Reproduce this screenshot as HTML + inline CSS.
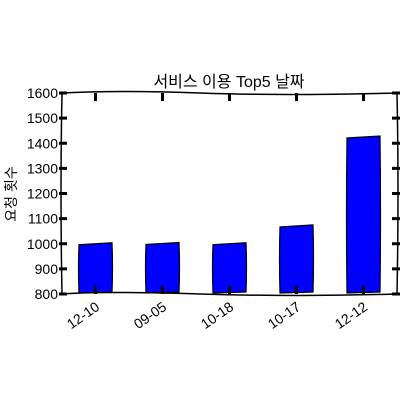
<!DOCTYPE html>
<html><head><meta charset="utf-8"><style>
html,body{margin:0;padding:0;background:#fff;width:402px;height:402px;overflow:hidden}
svg{display:block}
text{font-family:"Liberation Sans","Noto Sans CJK KR","NanumGothic",sans-serif;fill:#000}
</style></head><body>
<svg id="chart" width="402" height="402" viewBox="0 0 402 402" xmlns="http://www.w3.org/2000/svg">
<text x="229" y="87" font-size="16" text-anchor="middle">서비스 이용 Top5 날짜</text>
<text transform="translate(16,194) rotate(-90)" font-size="14" text-anchor="middle">요청 횟수</text>
<g id="bars"></g>
<g id="axes"></g>
</svg>
<script>
const categories = ["12-10","09-05","10-18","10-17","12-12"];
const values = [1000, 1001, 1000, 1071, 1425];
const yTicks = [800,900,1000,1100,1200,1300,1400,1500,1600];
const X0=62, X1=397, Y0=294, Y1=93, YMIN=800, YMAX=1600;
const band=(X1-X0)/categories.length;
const xc=i=>X0+(i+0.5)*band;
const y=v=>Y0-(v-YMIN)/(YMAX-YMIN)*(Y0-Y1);
const NS="http://www.w3.org/2000/svg";
const bars=document.getElementById('bars'), axes=document.getElementById('axes');
function mk(tag,attrs,parent){const e=document.createElementNS(NS,tag);for(const k in attrs)e.setAttribute(k,attrs[k]);parent.appendChild(e);return e;}
values.forEach((v,i)=>{
  const cx=xc(i), w=33, t=y(v);
  const p=mk('path',{d:`M${cx-w/2} ${Y0-1} Q${cx-w/2-1} ${(t+Y0)/2} ${cx-w/2} ${t+1} L${cx+w/2} ${t-1} Q${cx+w/2+1} ${(t+Y0)/2} ${cx+w/2} ${Y0-2} Z`,fill:'#0000ff',stroke:'#000','stroke-width':1.2},bars);
  
  
  const tk=mk('line',{x1:cx,x2:cx,y1:Y0,y2:Y0-8,stroke:'#000','stroke-width':3},axes);
  
  
  mk('line',{x1:cx,x2:cx,y1:Y1,y2:Y1+8,stroke:'#000','stroke-width':3},axes);
  const lb=mk('text',{transform:`translate(${cx+5},${Y0+15}) rotate(-35)`,'font-size':14,'text-anchor':'end'},axes);
  lb.textContent=categories[i];
  
  
});
yTicks.forEach(t=>{
  const yy=y(t);
  mk('line',{x1:X0-3,x2:X0+5,y1:yy,y2:yy,stroke:'#000','stroke-width':3},axes);
  mk('line',{x1:X1-5,x2:X1+3,y1:yy,y2:yy,stroke:'#000','stroke-width':3},axes);
  const lb=mk('text',{x:X0-4,y:yy+5,'font-size':14,'text-anchor':'end'},axes);
  lb.textContent=t;
  
  
});
const frame=mk('path',{d:`M${X0} ${Y1} Q120 ${Y1-3} 200 ${Y1} T${X1} ${Y1} Q${X1+2} 190 ${X1} ${Y0} Q300 ${Y0+3} 200 ${Y0} T${X0} ${Y0} Q${X0-2} 190 ${X0} ${Y1} Z`,fill:'none',stroke:'#000','stroke-width':1.5},axes);


</script>
</body></html>
